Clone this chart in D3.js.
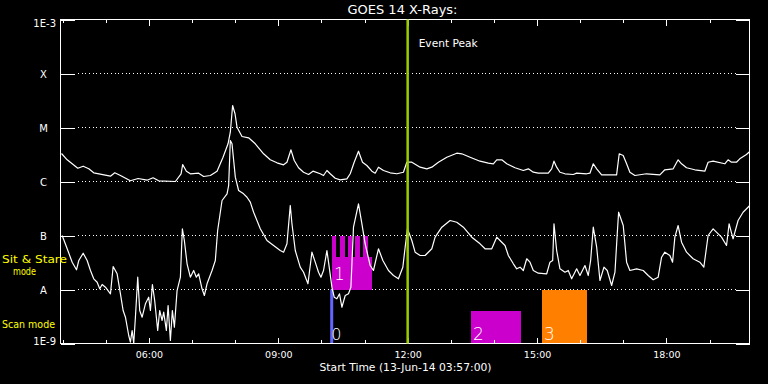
<!DOCTYPE html>
<html><head><meta charset="utf-8">
<script src="https://cdn.jsdelivr.net/npm/d3@7"></script>
<style>
html,body{margin:0;padding:0;background:#000;}
svg{display:block;background:#000;}
text{font-family:"DejaVu Sans",sans-serif;fill:#fff;}
</style></head><body>
<svg id="chart" width="768" height="384"></svg>
<script>
// ---------------- DATA ----------------
const titleText = "GOES 14 X-Rays:";
const startLabel = "Start Time (13-Jun-14 03:57:00)";
const windowStartHour = 3.95;   // 03:57
const windowEndHour = 19.95;    // 19:57
const levelTicks = [1e-9, 1e-8, 1e-7, 1e-6, 1e-5, 1e-4, 1e-3];
const levelLabels = ["1E-9", "A", "B", "C", "M", "X", "1E-3"];
const modeLabels = ["Sit & Stare", "mode", "Scan mode"];
const eventPeakHour = 12.0;
const eventPeakLabel = "Event Peak";
const scanStartHour = 10.239;
const scanStartLabel = "0";
// observation boxes (hours, log10 flux)
const boxLabels = ["1", "2", "3"];
const boxStart = [10.244, 13.470, 15.115];
const boxEnd = [11.177, 14.629, 16.157];
const boxTopExp = [-7.389, -8.389, -8.0];
const boxBottomExp = [-8.0, -9.0, -9.0];
// raster comb on top of box 1
const combStart = [10.244, 10.436, 10.621, 10.790, 10.976];
const combEnd = [10.344, 10.536, 10.721, 10.890, 11.077];
const combTopExp = -7.0;
const combBottomExp = -7.389;
// GOES 1-8 A channel: [hour, log10 flux]
const goesLong = [[3.973,-5.481],[4.105,-5.598],[4.351,-5.754],[4.476,-5.717],[4.606,-5.765],[4.721,-5.839],[5.108,-5.902],[5.208,-5.839],[5.340,-5.889],[5.571,-5.987],[5.750,-5.944],[5.958,-5.976],[6.097,-5.931],[6.227,-5.987],[6.614,-6.0],[6.746,-5.857],[6.783,-5.685],[6.869,-5.809],[6.961,-5.857],[7.154,-5.846],[7.269,-5.907],[7.425,-5.889],[7.580,-5.809],[7.719,-5.55],[7.835,-5.302],[7.888,-5.087],[7.941,-4.593],[7.997,-4.746],[8.043,-4.994],[8.159,-5.167],[8.312,-5.191],[8.467,-5.302],[8.659,-5.487],[8.814,-5.598],[8.970,-5.654],[9.123,-5.691],[9.201,-5.643],[9.294,-5.413],[9.370,-5.611],[9.470,-5.746],[9.586,-5.828],[9.702,-5.870],[9.804,-5.809],[9.973,-5.857],[10.049,-5.889],[10.128,-5.796],[10.204,-5.857],[10.320,-5.939],[10.436,-5.969],[10.591,-5.950],[10.668,-5.857],[10.760,-5.643],[10.860,-5.439],[10.953,-5.643],[11.054,-5.704],[11.170,-5.809],[11.247,-5.846],[11.323,-5.735],[11.439,-5.796],[11.594,-5.839],[11.750,-5.857],[11.902,-5.828],[11.981,-5.643],[12.097,-5.643],[12.289,-5.735],[12.444,-5.765],[12.560,-5.735],[12.713,-5.643],[12.908,-5.550],[13.139,-5.476],[13.255,-5.487],[13.447,-5.550],[13.679,-5.624],[13.871,-5.661],[13.987,-5.672],[14.066,-5.598],[14.182,-5.598],[14.298,-5.672],[14.490,-5.746],[14.682,-5.796],[14.798,-5.765],[14.914,-5.828],[15.030,-5.846],[15.261,-5.846],[15.339,-5.765],[15.393,-5.624],[15.455,-5.735],[15.532,-5.828],[15.648,-5.857],[15.840,-5.870],[15.919,-5.846],[16.150,-5.857],[16.227,-5.846],[16.304,-5.672],[16.383,-5.765],[16.498,-5.876],[16.845,-5.876],[16.906,-5.487],[16.998,-5.519],[17.077,-5.672],[17.153,-5.828],[17.269,-5.889],[17.540,-5.857],[17.848,-5.876],[17.964,-5.783],[18.157,-5.765],[18.272,-5.598],[18.351,-5.672],[18.467,-5.746],[18.659,-5.783],[18.891,-5.809],[18.967,-5.643],[19.083,-5.624],[19.354,-5.672],[19.430,-5.598],[19.509,-5.643],[19.625,-5.643],[19.701,-5.580],[19.856,-5.5],[19.933,-5.444]];
// GOES 0.5-4 A channel: [hour, log10 flux]
const goesShort = [[3.989,-7.0],[4.105,-7.246],[4.221,-7.494],[4.321,-7.635],[4.374,-7.463],[4.476,-7.328],[4.568,-7.463],[4.645,-7.648],[4.721,-7.802],[4.800,-7.865],[4.860,-7.987],[4.916,-7.907],[4.992,-7.957],[5.108,-8.080],[5.171,-7.574],[5.263,-7.709],[5.340,-8.080],[5.402,-8.389],[5.456,-8.513],[5.532,-8.852],[5.571,-8.976],[5.611,-8.759],[5.648,-9.0],[5.687,-8.513],[5.741,-7.772],[5.787,-8.389],[5.843,-8.513],[5.919,-8.265],[5.995,-8.143],[6.035,-8.389],[6.081,-7.907],[6.134,-8.204],[6.204,-8.759],[6.250,-8.389],[6.306,-8.574],[6.343,-8.420],[6.405,-8.759],[6.445,-8.296],[6.498,-8.944],[6.544,-8.389],[6.591,-8.698],[6.653,-8.019],[6.730,-7.772],[6.776,-6.876],[6.822,-7.093],[6.885,-7.524],[6.961,-7.772],[7.038,-7.648],[7.100,-7.772],[7.154,-7.709],[7.232,-7.987],[7.286,-8.111],[7.348,-7.894],[7.464,-7.648],[7.540,-7.463],[7.594,-6.907],[7.696,-6.352],[7.812,-6.228],[7.849,-6.074],[7.888,-5.241],[7.927,-5.302],[8.004,-5.920],[8.080,-6.167],[8.196,-6.228],[8.275,-6.291],[8.351,-6.383],[8.428,-6.569],[8.583,-6.876],[8.738,-7.093],[8.891,-7.185],[9.046,-7.278],[9.123,-7.309],[9.201,-7.154],[9.278,-6.444],[9.317,-6.783],[9.394,-7.278],[9.509,-7.587],[9.586,-7.680],[9.688,-7.894],[9.780,-7.309],[9.857,-7.494],[9.933,-7.680],[9.989,-7.772],[10.049,-7.648],[10.128,-7.278],[10.181,-7.587],[10.244,-7.957],[10.297,-8.143],[10.359,-8.172],[10.420,-8.080],[10.475,-8.328],[10.552,-8.111],[10.628,-8.080],[10.684,-7.957],[10.744,-6.846],[10.860,-6.413],[10.939,-6.783],[11.015,-7.154],[11.131,-7.556],[11.207,-7.648],[11.323,-7.246],[11.425,-7.463],[11.555,-7.648],[11.671,-7.741],[11.786,-7.802],[11.888,-7.587],[11.942,-7.217],[11.995,-6.876],[12.097,-7.093],[12.173,-7.309],[12.289,-7.370],[12.405,-7.370],[12.560,-7.246],[12.637,-7.031],[12.792,-6.846],[12.984,-6.722],[13.139,-6.754],[13.292,-6.846],[13.487,-7.031],[13.679,-7.154],[13.795,-7.246],[13.950,-7.246],[14.066,-7.031],[14.142,-7.093],[14.258,-7.185],[14.335,-7.370],[14.451,-7.524],[14.529,-7.617],[14.606,-7.587],[14.682,-7.648],[14.761,-7.431],[14.837,-7.494],[14.914,-7.648],[15.030,-7.698],[15.224,-7.709],[15.300,-7.494],[15.363,-7.463],[15.393,-6.783],[15.455,-7.278],[15.532,-7.617],[15.648,-7.680],[15.724,-7.648],[15.803,-7.802],[15.919,-7.617],[15.995,-7.741],[16.111,-7.556],[16.188,-7.741],[16.243,-7.463],[16.304,-6.846],[16.383,-7.217],[16.459,-7.833],[16.552,-7.587],[16.628,-7.648],[16.730,-7.926],[16.807,-7.680],[16.860,-6.969],[16.892,-6.569],[16.999,-6.815],[17.077,-7.494],[17.153,-7.648],[17.309,-7.617],[17.462,-7.648],[17.578,-7.741],[17.693,-7.820],[17.809,-7.772],[17.888,-7.402],[17.964,-7.309],[18.080,-7.370],[18.143,-7.494],[18.196,-7.031],[18.272,-6.815],[18.351,-7.124],[18.467,-7.309],[18.620,-7.431],[18.775,-7.494],[18.868,-7.587],[18.967,-7.0],[19.083,-6.876],[19.278,-7.031],[19.394,-7.185],[19.454,-6.783],[19.546,-7.061],[19.662,-6.722],[19.778,-6.569],[19.933,-6.444]];

// ---------------- STYLE ----------------
const boxColors = ["#cc00cc", "#cc00cc", "#ff8000"];
const combColor = "#cc00cc";
const peakColor = "#99cc00";
const scanColor = "#6464ff";
const modeColor = "#ffff00";

// ---------------- CHART ----------------
const day0 = Date.UTC(2014, 5, 13);
const toDate = h => new Date(day0 + h * 3600000);
const M = {left: 60.5, right: 750.5, top: 19.5, bottom: 343.5};
const svg = d3.select("#chart");

const x = d3.scaleUtc().domain([toDate(windowStartHour), toDate(windowEndHour)]).range([M.left, M.right]);
const y = d3.scaleLog().domain([1e-9, 1e-3]).range([M.bottom, M.top]);
const yE = e => y(Math.pow(10, e));
const xH = h => x(toDate(h));

svg.append("defs").append("clipPath").attr("id", "clip")
  .append("rect").attr("x", M.left).attr("y", M.top)
  .attr("width", M.right - M.left).attr("height", M.bottom - M.top);

// dotted level lines
svg.append("g").selectAll("line").data(levelTicks.slice(1, -1)).join("line")
  .attr("x1", 78).attr("x2", 736)
  .attr("y1", d => Math.round(y(d) - 0.5) + 0.5).attr("y2", d => Math.round(y(d) - 0.5) + 0.5)
  .attr("stroke", "#fff").attr("stroke-width", 1).attr("stroke-dasharray", "1 2.67")
  .attr("shape-rendering", "crispEdges");

// boxes
const gBox = svg.append("g").attr("shape-rendering", "crispEdges");
gBox.selectAll("rect.box").data(d3.range(boxLabels.length)).join("rect").attr("class", "box")
  .attr("x", i => xH(boxStart[i])).attr("width", i => xH(boxEnd[i]) - xH(boxStart[i]))
  .attr("y", i => yE(boxTopExp[i])).attr("height", i => yE(boxBottomExp[i]) - yE(boxTopExp[i]))
  .attr("fill", i => boxColors[i]);
gBox.selectAll("rect.comb").data(d3.range(combStart.length)).join("rect").attr("class", "comb")
  .attr("x", i => xH(combStart[i])).attr("width", i => xH(combEnd[i]) - xH(combStart[i]))
  .attr("y", yE(combTopExp)).attr("height", yE(combBottomExp) - yE(combTopExp) + 1)
  .attr("fill", combColor);

// scan start line
svg.append("line").attr("x1", xH(scanStartHour)).attr("x2", xH(scanStartHour))
  .attr("y1", y(1e-8)).attr("y2", M.bottom).attr("stroke", scanColor).attr("stroke-width", 3);

// curves
const line = d3.line().x(d => xH(d[0])).y(d => yE(d[1]));
const gCurves = svg.append("g").attr("clip-path", "url(#clip)");
[goesLong, goesShort].forEach(s => {
  gCurves.append("path").datum(s).attr("d", line)
    .attr("fill", "none").attr("stroke", "#fff").attr("stroke-width", 1.2)
    .attr("stroke-linejoin", "round");
});

// box labels
const labelDy = [-10, -4, -4];
svg.append("g").selectAll("text").data(d3.range(boxLabels.length)).join("text")
  .attr("x", i => xH(boxStart[i]) + 2).attr("y", i => yE(boxBottomExp[i]) + labelDy[i])
  .attr("font-size", 17).attr("font-weight", 200).text(i => boxLabels[i]);
svg.append("text").attr("x", xH(scanStartHour) - 0.5).attr("y", M.bottom - 4)
  .attr("font-size", 16).attr("font-weight", 200).text(scanStartLabel);

// axes
function styleAxis(g) {
  g.select(".domain").remove();
  g.selectAll(".tick line").attr("stroke", "#fff").attr("shape-rendering", "crispEdges");
  g.selectAll(".tick text").attr("fill", "#fff").attr("font-size", 9.5)
    .attr("font-family", "DejaVu Sans, sans-serif");
}
svg.append("g").attr("transform", `translate(0,${M.bottom})`)
  .call(d3.axisBottom(x).ticks(d3.utcHour.every(3)).tickFormat(d3.utcFormat("%H:%M"))
    .tickSizeInner(-6).tickSizeOuter(0).tickPadding(8)).call(styleAxis);
svg.append("g").attr("transform", `translate(0,${M.bottom})`)
  .call(d3.axisBottom(x).ticks(d3.utcHour.every(1)).tickFormat("")
    .tickSizeInner(-3.5).tickSizeOuter(0)).call(styleAxis);
svg.append("g").attr("transform", `translate(0,${M.top})`)
  .call(d3.axisTop(x).ticks(d3.utcHour.every(3)).tickFormat("")
    .tickSizeInner(-6).tickSizeOuter(0)).call(styleAxis);
svg.append("g").attr("transform", `translate(0,${M.top})`)
  .call(d3.axisTop(x).ticks(d3.utcHour.every(1)).tickFormat("")
    .tickSizeInner(-3.5).tickSizeOuter(0)).call(styleAxis);
svg.append("g").attr("transform", `translate(${M.left},0)`)
  .call(d3.axisLeft(y).tickValues(levelTicks).tickFormat("")
    .tickSizeInner(-14).tickSizeOuter(0)).call(styleAxis);
svg.append("g").attr("transform", `translate(${M.right - 1},0)`)
  .call(d3.axisRight(y).tickValues(levelTicks).tickFormat("")
    .tickSizeInner(-14).tickSizeOuter(0)).call(styleAxis);

// frame
svg.append("rect").attr("x", M.left).attr("y", M.top)
  .attr("width", M.right - 1 - M.left).attr("height", M.bottom - M.top)
  .attr("fill", "none").attr("stroke", "#fff").attr("shape-rendering", "crispEdges");

// event peak line
svg.append("line").attr("x1", xH(eventPeakHour)).attr("x2", xH(eventPeakHour))
  .attr("y1", M.top).attr("y2", M.bottom).attr("stroke", peakColor).attr("stroke-width", 2.5);
svg.append("text").attr("x", xH(eventPeakHour) + 11).attr("y", 47)
  .attr("font-size", 11).attr("textLength", 59).attr("lengthAdjust", "spacingAndGlyphs")
  .text(eventPeakLabel);

// level labels
svg.append("g").selectAll("text").data(levelTicks).join("text")
  .attr("x", (d, i) => levelLabels[i].length > 1 ? 56 : 43.5)
  .attr("text-anchor", (d, i) => levelLabels[i].length > 1 ? "end" : "middle")
  .attr("y", (d, i) => i === 0 ? y(d) + 1 : i === levelTicks.length - 1 ? y(d) + 7.5 : y(d) + 4.5)
  .attr("font-size", 10).text((d, i) => levelLabels[i]);

// title & x label
svg.append("text").attr("x", (M.left + M.right) / 2 - 3).attr("y", 14).attr("text-anchor", "middle")
  .attr("font-size", 12.5).attr("textLength", 110).attr("lengthAdjust", "spacingAndGlyphs").text(titleText);
svg.append("text").attr("x", (M.left + M.right) / 2).attr("y", 371).attr("text-anchor", "middle")
  .attr("font-size", 11).attr("textLength", 172).attr("lengthAdjust", "spacingAndGlyphs").text(startLabel);

// mode labels
const gMode = svg.append("g").attr("font-size", 11);
gMode.append("text").attr("x", 2).attr("y", 263).attr("fill", modeColor)
  .style("fill", modeColor).attr("textLength", 65).attr("lengthAdjust", "spacingAndGlyphs").text(modeLabels[0]);
gMode.append("text").attr("x", 13).attr("y", 275).style("fill", modeColor)
  .attr("textLength", 23).attr("lengthAdjust", "spacingAndGlyphs").text(modeLabels[1]);
gMode.append("text").attr("x", 2).attr("y", 327.5).style("fill", modeColor)
  .attr("textLength", 53).attr("lengthAdjust", "spacingAndGlyphs").text(modeLabels[2]);
</script>
</body></html>
